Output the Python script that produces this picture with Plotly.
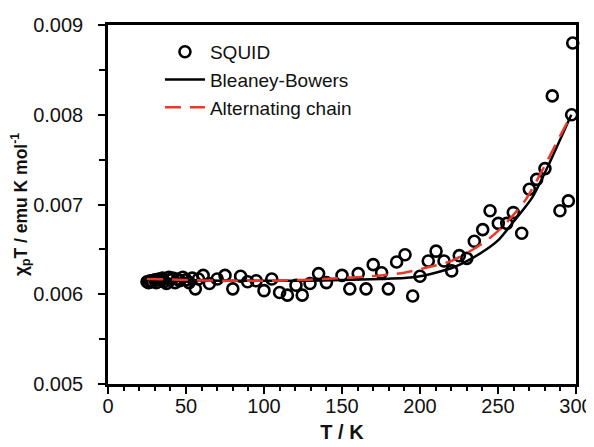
import plotly.graph_objects as go

# SQUID data (T / K, chi_p T / emu K mol^-1)
squid_T = [25, 26, 27, 28.5, 30, 31, 32.5, 34, 35, 36, 37.5, 39, 40, 41.5, 43, 44.5, 46, 48, 50, 52, 54,
           56, 58, 61, 65, 70, 75, 80, 85, 89.5, 95, 100, 105, 110, 115, 120.5, 124.5, 129.5, 135, 140,
           150, 155, 160.4, 165.4, 170, 175.4, 179.7, 185, 190.4, 195.3, 200, 205.3, 210.3, 215.4, 220.3,
           225.2, 230, 234.8, 240.2, 244.9, 250.2, 255.6, 259.8, 265.2, 270.1, 274.8, 280.1, 284.8,
           289.7, 295.1, 297.2, 297.9]
squid_chiT = [0.00614, 0.00613, 0.00615, 0.00614, 0.00616, 0.00613, 0.00617, 0.00615, 0.00618, 0.00614,
              0.00612, 0.00619, 0.00616, 0.00618, 0.00613, 0.00617, 0.00615, 0.00619, 0.00616, 0.00613,
              0.00618, 0.00606, 0.00617, 0.00621, 0.00612, 0.00617, 0.00621, 0.00606, 0.00620, 0.00614,
              0.00615, 0.00604, 0.00617, 0.00602, 0.00599, 0.00610, 0.00599, 0.00612, 0.00623, 0.00613,
              0.00621, 0.00606, 0.00623, 0.00606, 0.00633, 0.00624, 0.00606, 0.00636, 0.00644, 0.00598,
              0.00620, 0.00637, 0.00648, 0.00637, 0.00626, 0.00643, 0.00640, 0.00659, 0.00672, 0.00693,
              0.00679, 0.00679, 0.00691, 0.00668, 0.00717, 0.00728, 0.00740, 0.00821, 0.00693, 0.00704,
              0.00800, 0.00880]

# Bleaney-Bowers fit
bb_T = [25, 50, 75, 100, 125, 150, 175, 190, 200, 210, 220, 230, 240, 250, 260, 272, 284, 290, 297]
bb_chiT = [0.00617, 0.00616, 0.00615, 0.00615, 0.00615, 0.00616, 0.00617, 0.00618, 0.00620, 0.00624,
           0.00629, 0.00637, 0.00647, 0.00660, 0.00681, 0.00708, 0.00750, 0.00773, 0.00800]

# Alternating chain fit
ac_T = [25, 50, 75, 100, 125, 150, 175, 190, 205, 220, 235, 245, 255, 268, 282, 290, 297]
ac_chiT = [0.00617, 0.00616, 0.00615, 0.00615, 0.00616, 0.00618, 0.00621, 0.00624, 0.00630, 0.00637,
           0.00651, 0.00663, 0.00679, 0.00706, 0.00750, 0.00777, 0.00800]

x_ticks = [0, 50, 100, 150, 200, 250, 300]
y_ticks = [0.005, 0.006, 0.007, 0.008, 0.009]

FONT = "Liberation Sans, Arial, sans-serif"

fig = go.Figure()
fig.add_trace(go.Scatter(
    x=squid_T, y=squid_chiT, mode="markers", name="SQUID", legendgroup="a",
    marker=dict(symbol="circle-open", size=11, color="black", line=dict(width=2.6, color="black")),
    cliponaxis=False))
fig.add_trace(go.Scatter(
    x=bb_T, y=bb_chiT, mode="lines", name="Bleaney-Bowers", legendgroup="b",
    line=dict(color="black", width=2.5, shape="spline", smoothing=0.7)))
fig.add_trace(go.Scatter(
    x=ac_T, y=ac_chiT, mode="lines", name="Alternating chain", legendgroup="c",
    line=dict(color="#e8392b", width=2.5, dash="16px,9px", shape="spline", smoothing=0.7)))

# The page body adds an 8px margin, so the figure is sized to fill the rest of the window.
fig.update_layout(
    width=586, height=439,
    margin=dict(l=100, r=18, t=17, b=63),
    paper_bgcolor="white", plot_bgcolor="white",
    font=dict(family=FONT, size=20, color="#111"),
    showlegend=True,
    legend=dict(x=0.111, y=0.978, xanchor="left", yanchor="top",
                bgcolor="rgba(0,0,0,0)", font=dict(size=19, color="#111"),
                tracegroupgap=0, itemwidth=40),
    xaxis=dict(range=[0, 300], tickvals=x_ticks, ticktext=[str(v) for v in x_ticks],
               automargin=False,
               showgrid=False, zeroline=False, showline=True, linecolor="black", linewidth=2.5,
               mirror=True, ticks="outside", ticklen=7, tickwidth=2, tickcolor="black",
               ticklabelstandoff=-5,
               minor=dict(dtick=10, ticks="outside", ticklen=4, tickwidth=2, tickcolor="black"),
               title=dict(text="<b>T / K</b>", font=dict(size=20), standoff=10)),
    yaxis=dict(range=[0.005, 0.009], tickvals=y_ticks, ticktext=[f"{v:.3f}" for v in y_ticks],
               automargin=False,
               showgrid=False, zeroline=False, showline=True, linecolor="black", linewidth=2.5,
               mirror=True, ticks="outside", ticklen=7, tickwidth=2, tickcolor="black",
               ticklabelstandoff=11,
               minor=dict(dtick=0.0005, ticks="outside", ticklen=6, tickwidth=2, tickcolor="black"),
               title=dict(text="<b>χ<sub>p</sub>T / emu K mol<sup>-1</sup></b>", font=dict(size=17.5),
                          standoff=1)),
)

fig.write_html("out.html")
